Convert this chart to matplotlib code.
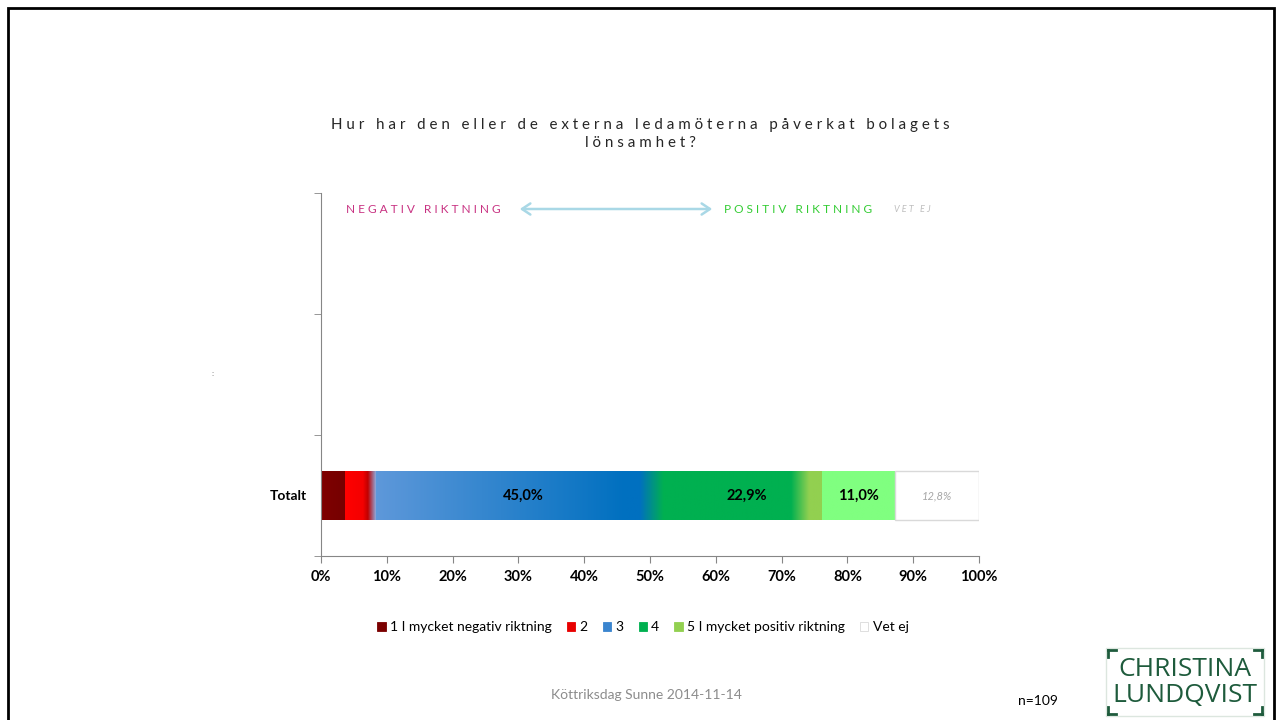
import numpy as np
import matplotlib
matplotlib.use('Agg')
from matplotlib import pyplot as plt
from matplotlib.colors import LinearSegmentedColormap
from matplotlib.patches import Patch, Rectangle, FancyArrowPatch
from matplotlib.lines import Line2D

# data
kategorier = ['Totalt', '', '']
serier = ['1 I mycket negativ riktning', '2', '3', '4', '5 I mycket positiv riktning', 'Vet ej']
andelar = [3.7, 4.6, 45.0, 22.9, 11.0, 12.8]
etiketter = ['', '', '45,0%', '22,9%', '11,0%', '12,8%']
xticks = [0, 10, 20, 30, 40, 50, 60, 70, 80, 90, 100]

# gradient fills, Excel-style
stopp = [
    [(0, '#800000'), (1, '#740000')],
    [(0, '#FF0000'), (0.58, '#F40000'), (0.74, '#C00000'), (1, '#8EA9DB')],
    [(0, '#5E98DA'), (0.84, '#0070C0'), (0.89, '#0070C0'), (0.97, '#00B050'), (1, '#00B050')],
    [(0, '#00B050'), (0.79, '#00B050'), (0.91, '#92D050'), (1, '#92D050')],
    [(0, '#80FF80'), (1, '#80FF80')],
    [(0, '#FFFFFF'), (1, '#FFFFFF')],
]
legendfarg = ['#7B0000', '#E80000', '#3A85CF', '#00B050', '#92D050', '#FFFFFF']

plt.rcParams['font.family'] = ['Lato', 'DejaVu Sans']

fig = plt.figure(figsize=(12.82, 7.2), dpi=100)
ax = fig.add_axes([321 / 1282, 1 - 556 / 720, 658 / 1282, 363 / 720])

vanster = 0
for i, v in enumerate(andelar):
    bar = ax.barh(0, v, left=vanster, height=0.41, color='none',
                  edgecolor='#D9D9D9' if i == 5 else 'none', linewidth=1, zorder=3)[0]
    cmap = LinearSegmentedColormap.from_list('g%d' % i, stopp[i])
    img = ax.imshow(np.linspace(0, 1, 256)[None, :], cmap=cmap, aspect='auto',
                    extent=[vanster, vanster + v, -0.205, 0.205], zorder=2)
    img.set_clip_path(bar)
    if etiketter[i]:
        if i == 5:
            ax.text(vanster + v / 2, 0, etiketter[i], ha='center', va='center',
                    fontsize=8, style='italic', color='#A6A6A6', zorder=4)
        else:
            ax.text(vanster + v / 2, 0, etiketter[i], ha='center', va='center',
                    fontsize=10.5, fontweight='bold', color='black', zorder=4)
    vanster += v

ax.set_xlim(0, 100)
ax.set_ylim(-0.5, 2.5)
ax.set_xticks(xticks)
ax.set_xticklabels(['%d%%' % t for t in xticks], fontsize=10.5, fontweight='bold')
ax.set_yticks([0, 1, 2])
ax.set_yticklabels(kategorier, fontsize=10, fontweight='bold')
ax.set_yticks([-0.5, 0.5, 1.5, 2.5], minor=True)
ax.tick_params(axis='y', which='major', length=0, pad=10)
ax.tick_params(axis='y', which='minor', length=5, color='#868686', direction='out')
ax.tick_params(axis='x', length=5, color='#868686', direction='out', pad=5)
for s in ['top', 'right']:
    ax.spines[s].set_visible(False)
for s in ['left', 'bottom']:
    ax.spines[s].set_color('#868686')
ax.set_facecolor('none')

# title
def spaced(s):
    return '   '.join(' '.join(w) for w in s.split(' '))

fig.text(640 / 1282, 1 - 125 / 720, spaced('Hur har den eller de externa ledamöterna påverkat bolagets'),
         ha='center', va='center', fontsize=10.9, color='#262626')
fig.text(640 / 1282, 1 - 143 / 720, spaced('lönsamhet?'),
         ha='center', va='center', fontsize=10.9, color='#262626')

# direction annotations
fig.text(346 / 1282, 1 - 209 / 720, spaced('NEGATIV RIKTNING'), ha='left', va='center',
         fontsize=8.6, color='#C83282')
fig.text(724 / 1282, 1 - 209 / 720, spaced('POSITIV RIKTNING'), ha='left', va='center',
         fontsize=8.6, color='#33CC33')
fig.text(894 / 1282, 1 - 209 / 720, spaced('VET EJ'), ha='left', va='center',
         fontsize=6.5, style='italic', color='#BFBFBF')
fig.add_artist(FancyArrowPatch(
    (517 / 1282, 1 - 209 / 720), (715 / 1282, 1 - 209 / 720), transform=fig.transFigure,
    arrowstyle='<->,head_length=6,head_width=4', color='#A9D8E6', linewidth=1.8))
fig.text(213 / 1282, 1 - 373 / 720, ':', ha='center', va='center', fontsize=6, color='#808080')

# legend
handles = [Patch(facecolor=legendfarg[i], edgecolor='#D9D9D9' if i == 5 else legendfarg[i],
                 linewidth=0.6) for i in range(len(serier))]
fig.legend(handles, serier, loc='center', bbox_to_anchor=(643 / 1282, 1 - 627 / 720), ncol=6,
           frameon=False, fontsize=10, handlelength=0.6, handleheight=0.6, handletextpad=0.3,
           columnspacing=1.1)

# footer
fig.text(646 / 1282, 1 - 695 / 720, 'Köttriksdag Sunne 2014-11-14', ha='center', va='center',
         fontsize=10, color='#8C8C8C')
fig.text(1018 / 1282, 1 - 701 / 720, 'n=109', ha='left', va='center', fontsize=10, color='black')

# logo
gron = '#1E5B3C'
fig.add_artist(Rectangle((1106 / 1282, 1 - 716 / 720), 158 / 1282, 68 / 720, transform=fig.transFigure,
                         fill=False, edgecolor='#DCE6DF', linewidth=1))
fig.text(1185 / 1282, 1 - 669 / 720, 'CHRISTINA', ha='center', va='center', fontsize=19,
         color=gron, family='Open Sans')
fig.text(1185 / 1282, 1 - 696 / 720, 'LUNDQVIST', ha='center', va='center', fontsize=19,
         color=gron, family='Open Sans')
for (x0, y0, dx, dy) in [(1108, 650, 1, 1), (1262, 650, -1, 1), (1108, 714, 1, -1), (1262, 714, -1, -1)]:
    fig.add_artist(Line2D([x0 / 1282, (x0 + 8 * dx) / 1282], [1 - y0 / 720, 1 - y0 / 720],
                          color=gron, linewidth=2))
    fig.add_artist(Line2D([x0 / 1282, x0 / 1282], [1 - y0 / 720, 1 - (y0 + 7 * dy) / 720],
                          color=gron, linewidth=2))

# slide frame
fig.add_artist(Rectangle((8 / 1282, -0.05), 1266 / 1282, 1.05 - 8 / 720, transform=fig.transFigure,
                         fill=False, edgecolor='black', linewidth=2))

fig.savefig('out.png', dpi=100)
